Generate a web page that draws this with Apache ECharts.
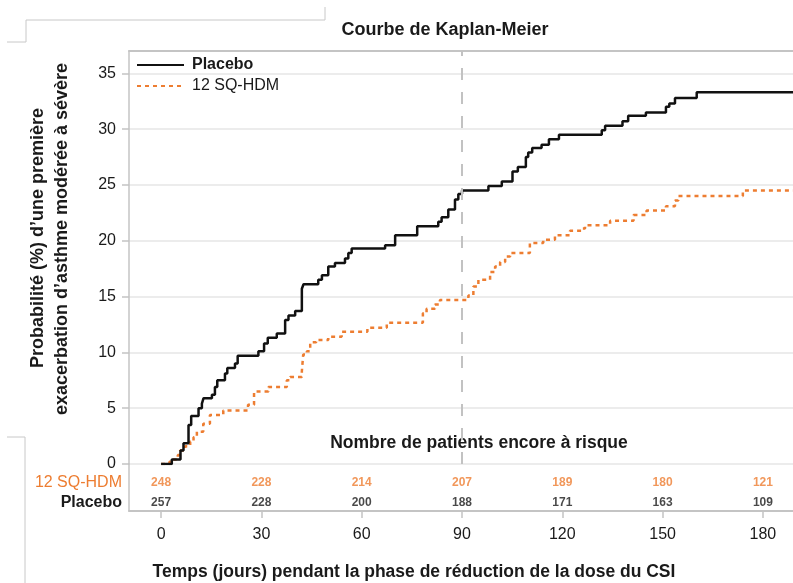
<!DOCTYPE html>
<html><head><meta charset="utf-8">
<script src="https://cdn.jsdelivr.net/npm/echarts@6/dist/echarts.min.js"></script>
<style>html,body{margin:0;padding:0;background:#fff}#c{width:793px;height:583px}</style>
</head><body><div id="c"></div>
<script>
// ---- data ----
const placeboDays = [0, 3.2, 5.8, 6.7, 8.2, 9.0, 11.2, 12.2, 12.7, 15.2, 16.1, 16.8, 19.1, 19.8, 22.1, 22.9, 29.1, 30.8, 31.9, 34.6, 37.1, 38.1, 40.1, 42.1, 42.6, 47.0, 48.1, 50.0, 52.0, 55.0, 56.0, 57.0, 67.0, 70.0, 76.6, 82.9, 83.9, 85.9, 87.9, 88.9, 90.0, 97.9, 101.9, 105.1, 106.7, 109.1, 109.8, 111.0, 113.8, 116.0, 119.0, 131.8, 132.8, 138.0, 139.7, 145.0, 151.0, 152.0, 153.7, 160.2, 189];
const placeboPct = [0, 0.4, 1.2, 1.85, 3.5, 4.3, 5.0, 5.4, 5.9, 6.2, 6.9, 7.5, 8.1, 8.6, 9.0, 9.7, 10.1, 10.8, 11.3, 11.7, 12.9, 13.3, 13.7, 15.7, 16.1, 16.5, 16.9, 17.7, 18.0, 18.4, 18.9, 19.3, 19.6, 20.5, 21.3, 21.7, 22.1, 22.8, 23.7, 24.2, 24.5, 24.9, 25.3, 26.2, 26.6, 27.5, 27.9, 28.3, 28.6, 29.1, 29.5, 29.9, 30.3, 30.7, 31.2, 31.5, 32.0, 32.3, 32.8, 33.3, 33.3];
const sqDays = [0, 2.5, 3.7, 5.0, 5.7, 7.2, 8.7, 9.7, 10.7, 12.6, 14.6, 18.6, 26.0, 27.8, 32.1, 37.6, 38.6, 42.1, 42.5, 43.6, 44.6, 46.4, 50.0, 54.0, 61.7, 67.5, 78.3, 79.4, 81.9, 83.4, 91.9, 93.4, 94.9, 98.4, 99.9, 101.4, 102.9, 104.4, 110.3, 114.3, 117.8, 122.3, 125.8, 126.8, 134.3, 141.3, 145.2, 151.0, 153.7, 154.7, 174.0, 189];
const sqPct = [0, 0.2, 0.4, 0.8, 1.2, 1.6, 2.0, 2.4, 2.9, 3.6, 4.4, 4.8, 5.3, 6.5, 6.9, 7.5, 7.8, 8.3, 9.8, 10.1, 10.9, 11.1, 11.4, 11.85, 12.2, 12.65, 13.5, 13.9, 14.3, 14.7, 15.1, 15.9, 16.5, 17.2, 17.7, 18.1, 18.6, 18.9, 19.8, 20.1, 20.5, 20.9, 21.1, 21.4, 21.8, 22.3, 22.7, 23.1, 23.6, 24.0, 24.5, 24.5];
const riskTimes = [0, 30, 60, 90, 120, 150, 180];
const riskSQ = [248, 228, 214, 207, 189, 180, 121];
const riskPlacebo = [257, 228, 200, 188, 171, 163, 109];
const xTicks = [0, 30, 60, 90, 120, 150, 180];
const yTicks = [0, 5, 10, 15, 20, 25, 30, 35];
const nameSQ = '12 SQ-HDM';
const namePlacebo = 'Placebo';

// ---- chart ----
const FONT = '"Liberation Sans", Arial, sans-serif';
const ORANGE = '#ED7D31';
const INK = '#1a1a1a';
const AXIS = '#c4c4c4';
const zip = (a, b) => a.map((v, i) => [v, b[i]]);
const ROW_SQ = 2, ROW_PL = 1;

const chart = echarts.init(document.getElementById('c'));
const option = {
  animation: false,
  textStyle: { fontFamily: FONT },
  grid: [
    { left: 129, top: 51, width: 664, height: 413 },
    { left: 129, top: 464, width: 664, height: 47 }
  ],
  xAxis: [
    { gridIndex: 0, type: 'value', min: -9.6, max: 189, position: 'top',
      axisLine: { show: true, onZero: false, lineStyle: { color: AXIS, width: 2 } },
      axisTick: { show: false }, axisLabel: { show: false }, splitLine: { show: false } },
    { gridIndex: 1, type: 'value', min: -9.6, max: 189, position: 'bottom',
      axisLine: { show: true, onZero: false, lineStyle: { color: AXIS, width: 2 } },
      axisTick: { show: true, length: 7, customValues: xTicks, lineStyle: { color: AXIS, width: 1.5 } },
      axisLabel: { customValues: xTicks, fontSize: 16, color: INK, margin: 16, fontFamily: FONT },
      splitLine: { show: false } }
  ],
  yAxis: [
    { gridIndex: 0, type: 'value', min: 0, max: 37, interval: 5,
      axisLine: { show: true, onZero: false, lineStyle: { color: AXIS, width: 1.5 } },
      axisTick: { show: true, length: 7, customValues: yTicks, lineStyle: { color: AXIS, width: 1.5 } },
      axisLabel: { customValues: yTicks, fontSize: 16, color: INK, margin: 13, fontFamily: FONT },
      splitLine: { show: true, lineStyle: { color: '#e6e6e6', width: 1.5 } } },
    { gridIndex: 1, type: 'value', min: 0.6, max: 2.95,
      axisLine: { show: true, onZero: false, lineStyle: { color: AXIS, width: 1.5 } },
      axisTick: { show: false },
      axisLabel: { customValues: [ROW_PL, ROW_SQ], margin: 7,
        formatter: v => v === ROW_SQ ? '{o|' + nameSQ + '}' : '{p|' + namePlacebo + '}',
        rich: {
          o: { color: ORANGE, fontSize: 16, fontFamily: FONT },
          p: { color: INK, fontSize: 16, fontWeight: 'bold', fontFamily: FONT }
        } },
      splitLine: { show: false } }
  ],
  legend: {
    orient: 'vertical', left: 136, top: 57, padding: 0, itemWidth: 47, itemHeight: 14, itemGap: 5,
    itemStyle: { opacity: 0 },
    textStyle: { fontSize: 16, color: INK, fontFamily: FONT, padding: [0, 0, 0, 3] },
    data: [{ name: namePlacebo, textStyle: { fontWeight: 'bold' } }, { name: nameSQ }]
  },
  series: [
    { name: namePlacebo, type: 'line', step: 'end', xAxisIndex: 0, yAxisIndex: 0,
      symbol: 'none', data: zip(placeboDays, placeboPct), z: 4,
      lineStyle: { color: '#111', width: 2.5 }, itemStyle: { color: '#111' },
      markLine: { silent: true, symbol: ['none', 'none'], label: { show: false },
        lineStyle: { color: '#c2c2c2', width: 2, type: [12, 12] },
        data: [{ xAxis: 90 }] } },
    { name: nameSQ, type: 'line', step: 'end', xAxisIndex: 0, yAxisIndex: 0,
      symbol: 'none', data: zip(sqDays, sqPct), z: 3,
      lineStyle: { color: ORANGE, width: 2.5, type: [4, 4] }, itemStyle: { color: ORANGE } },
    { type: 'scatter', xAxisIndex: 1, yAxisIndex: 1, symbolSize: 1,
      itemStyle: { color: 'transparent' },
      data: riskTimes.map((t, i) => [t, ROW_SQ, riskSQ[i]]),
      label: { show: true, position: 'inside', formatter: p => p.value[2],
        color: ORANGE, fontSize: 12, fontWeight: 'bold', fontFamily: FONT } },
    { type: 'scatter', xAxisIndex: 1, yAxisIndex: 1, symbolSize: 1,
      itemStyle: { color: 'transparent' },
      data: riskTimes.map((t, i) => [t, ROW_PL, riskPlacebo[i]]),
      label: { show: true, position: 'inside', formatter: p => p.value[2],
        color: INK, fontSize: 12, fontWeight: 'bold', fontFamily: FONT } }
  ],
  graphic: [
    { type: 'polyline', silent: true, shape: { points: [[7, 42], [26, 42], [26, 20], [325, 20], [325, 7]] },
      style: { stroke: '#c8c8c8', lineWidth: 1, fill: null } },
    { type: 'polyline', silent: true, shape: { points: [[7, 437], [25, 437], [25, 583]] },
      style: { stroke: '#c8c8c8', lineWidth: 1, fill: null } },
    { type: 'text', x: 445, y: 30, style: { text: 'Courbe de Kaplan-Meier', font: 'bold 18px ' + FONT, fill: INK,
        textAlign: 'center', textVerticalAlign: 'middle', align: 'center', verticalAlign: 'middle' } },
    { type: 'text', x: 479, y: 443, style: { text: 'Nombre de patients encore à risque', font: 'bold 17.5px ' + FONT, fill: INK,
        textAlign: 'center', textVerticalAlign: 'middle', align: 'center', verticalAlign: 'middle' } },
    { type: 'text', x: 414, y: 572, style: { text: 'Temps (jours) pendant la phase de réduction de la dose du CSI', font: 'bold 17.5px ' + FONT, fill: INK,
        textAlign: 'center', textVerticalAlign: 'middle', align: 'center', verticalAlign: 'middle' } },
    { type: 'text', x: 38, y: 238, rotation: Math.PI / 2, style: { text: 'Probabilité (%) d’une première', font: 'bold 18px ' + FONT, fill: INK,
        textAlign: 'center', textVerticalAlign: 'middle', align: 'center', verticalAlign: 'middle' } },
    { type: 'text', x: 62, y: 239, rotation: Math.PI / 2, style: { text: 'exacerbation d’asthme modérée à sévère', font: 'bold 18px ' + FONT, fill: INK,
        textAlign: 'center', textVerticalAlign: 'middle', align: 'center', verticalAlign: 'middle' } }
  ]
};
chart.setOption(option);
</script></body></html>
